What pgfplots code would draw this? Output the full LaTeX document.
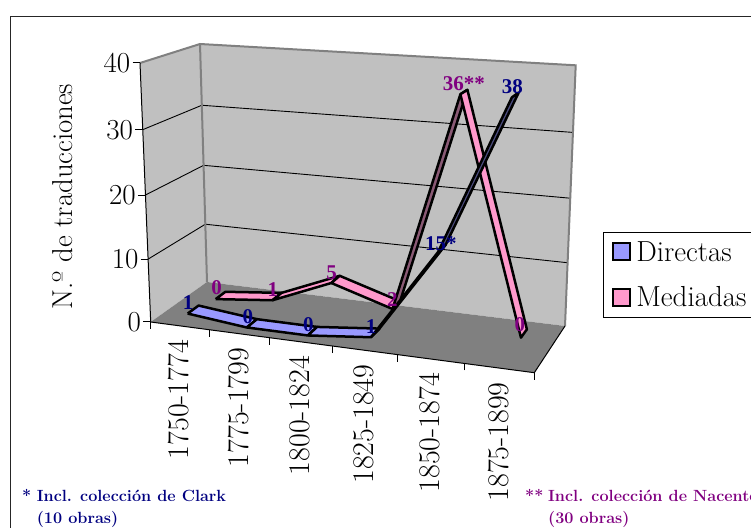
\documentclass[border=0pt]{standalone}
\usepackage{fontspec}
\usepackage{pgfplots}
\usepackage{pgfplotstable}
\pgfplotsset{compat=1.18}
\newfontfamily\valuefont{Liberation Serif}

\definecolor{wallgray}{HTML}{C0C0C0}
\definecolor{floorgray}{HTML}{808080}
\definecolor{directas}{HTML}{9999FF}
\definecolor{mediadas}{HTML}{FF99CC}
\definecolor{directasdark}{HTML}{4D4D80}
\definecolor{mediadasdark}{HTML}{8A5A75}
\definecolor{navylabel}{HTML}{000080}
\definecolor{purplelabel}{HTML}{800080}

% Value labels: period index, depth in the box, value, label shift, text
\pgfplotstableread{
i v n dx dy label
0 0.25 1 -5 6.5 1
1 0.25 0 -4 7 0
2 0.25 0 -4 7 0
3 0.25 1 -4 6 1
4 0.25 15 -1 5 15*
5 0.25 38 -3 8 38
}\tblDirectas
\pgfplotstableread{
i v n dx dy label
0 0.75 0 -4 8 0
1 0.75 1 -4 7 1
2 0.75 5 -4 7 5
3 0.75 2 -4 6 2
4 0.75 36 0 8 36**
5 0.75 0 -4 9 0
}\tblMediadas
\pgfplotstableread{
i v n label
0 0 0 1750-1774
1 0 0 1775-1799
2 0 0 1800-1824
3 0 0 1825-1849
4 0 0 1850-1874
5 0 0 1875-1899
}\tblPeriods
\pgfplotstableread{
i v n label
-0.5 0 0 0
-0.5 0 10 10
-0.5 0 20 20
-0.5 0 30 30
-0.5 0 40 40
}\tblValues

% Table rows hold (period, depth, value); this maps them into the page plane
\pgfplotsset{
  table/world/.style={
    x expr={mapx(\thisrow{i},\thisrow{v},\thisrow{n})},
    y expr={mapy(\thisrow{i},\thisrow{v},\thisrow{n})},
  },
}
\newcommand{\worldpath}[2]{%
  \addplot[forget plot,#1] table[world,row sep=\\] {i v n\\ #2};}
% One ribbon piece: fill, start period, start value, end period, end value, front, back
\newcommand{\quadseg}[7]{%
  \addplot[forget plot,draw=black,line width=2.5pt,line join=round,fill=#1]
    table[world,row sep=\\] {i v n\\ #2 #6 #3\\ #2 #7 #3\\ #4 #7 #5\\ #4 #6 #5\\ #2 #6 #3\\};}

\begin{document}
\begin{tikzpicture}[x=1pt,y=1pt]
\useasboundingbox (0,0) rectangle (751,527);
\clip (0,0) rectangle (751,527);
\begin{axis}[
  at={(0,0)},anchor=south west,
  scale only axis,width=751pt,height=527pt,
  xmin=0,xmax=751,ymin=0,ymax=527,
  hide axis,clip=false,
  declare function={
    lerp(\p,\q,\t)=\p+(\q-\p)*\t;
    fracu(\x)=((\x+0.5)/6)/(1+0.11*(1-(\x+0.5)/6));
    fracw(\z)=(\z/40)/(1+0.04*(1-\z/40));
    mapx(\x,\y,\z)=lerp(
      lerp(lerp(150.7,534.3,fracu(\x)),lerp(207,565,fracu(\x)),\y),
      lerp(lerp(140,544.3,fracu(\x)),lerp(200,575.7,fracu(\x)),\y),
      fracw(\z));
    mapy(\x,\y,\z)=527-lerp(
      lerp(lerp(322,372.7,fracu(\x)),lerp(282,326,fracu(\x)),\y),
      lerp(lerp(63,88.7,fracu(\x)),lerp(44,65.3,fracu(\x)),\y),
      fracw(\z));
  },
  legend style={
    at={(axis cs:603,295)},anchor=north west,
    draw=black,line width=1pt,fill=white,
    font=\fontsize{29}{31}\selectfont,
    inner xsep=8.5pt,inner ysep=8pt,row sep=22pt,
    nodes={inner xsep=5.5pt,inner ysep=1pt},
  },
  legend cell align=left,
]
% Outer frame of the chart area
\addplot[forget plot,draw=black!85,line width=1.5pt] coordinates {(10.7,-5) (10.7,510.5) (760,510.5)};

% Walls and floor
\worldpath{draw=none,fill=wallgray}{-0.5 0 0\\ -0.5 1 0\\ -0.5 1 40\\ -0.5 0 40\\}
\worldpath{draw=none,fill=wallgray}{-0.5 1 0\\ 5.5 1 0\\ 5.5 1 40\\ -0.5 1 40\\}
\worldpath{draw=none,fill=floorgray}{-0.5 0 0\\ 5.5 0 0\\ 5.5 1 0\\ -0.5 1 0\\}
% Horizontal grid on both walls
\worldpath{draw=black,line width=0.9pt}{-0.5 0 10\\ -0.5 1 10\\ 5.5 1 10\\}
\worldpath{draw=black,line width=0.9pt}{-0.5 0 20\\ -0.5 1 20\\ 5.5 1 20\\}
\worldpath{draw=black,line width=0.9pt}{-0.5 0 30\\ -0.5 1 30\\ 5.5 1 30\\}
% Wall edges
\worldpath{draw=floorgray,line width=2pt,line join=miter}{-0.5 0 40\\ -0.5 1 40\\ 5.5 1 40\\ 5.5 1 0\\}
\worldpath{draw=floorgray,line width=2pt}{-0.5 1 40\\ -0.5 1 0\\}
% Axis lines and tick marks
\worldpath{draw=black,line width=1pt}{-0.5 0 40\\ -0.5 0 0\\ 5.5 0 0\\ 5.5 1 0\\}
\pgfplotsinvokeforeach{0,10,20,30,40}{
  \addplot[forget plot,draw=black,line width=1pt] table[row sep=\\,
    x expr={mapx(-0.5,0,#1)+\thisrow{d}},y expr={mapy(-0.5,0,#1)}] {d\\ -7.5\\ 0\\};
}
\pgfplotsinvokeforeach{-0.5,0.5,1.5,2.5,3.5,4.5,5.5}{
  \addplot[forget plot,draw=black,line width=1pt] table[row sep=\\,
    x expr={mapx(#1,0,0)},y expr={mapy(#1,0,0)+\thisrow{d}}] {d\\ -7\\ 0\\};
}

% Mediadas ribbon: 0, 1, 5, 2, 36, 0
\quadseg{mediadas}{0}{0}{1}{1}{0.66}{0.84}
\quadseg{mediadas}{1}{1}{2}{5}{0.66}{0.84}
\quadseg{mediadas}{2}{5}{3}{2}{0.66}{0.84}
\quadseg{mediadasdark}{3}{2}{4}{36}{0.66}{0.84}
\quadseg{mediadas}{4}{36}{5}{0}{0.66}{0.84}
% Directas ribbon: 1, 0, 0, 1, 15, 38
\quadseg{directas}{0}{1}{1}{0}{0.15}{0.35}
\quadseg{directas}{1}{0}{2}{0}{0.15}{0.35}
\quadseg{directas}{2}{0}{3}{1}{0.15}{0.35}
\quadseg{directasdark}{3}{1}{4}{15}{0.15}{0.35}
\quadseg{directasdark}{4}{15}{5}{38}{0.15}{0.35}

% Value labels
\addplot[forget plot,only marks,mark=none,point meta=explicit symbolic,
  nodes near coords,
  nodes near coords style={anchor=center,inner sep=0pt,text=purplelabel,font=\fontsize{21}{23}\selectfont\valuefont\bfseries}]
  table[x expr={mapx(\thisrow{i},\thisrow{v},\thisrow{n})+\thisrow{dx}},
        y expr={mapy(\thisrow{i},\thisrow{v},\thisrow{n})+\thisrow{dy}},meta=label] {\tblMediadas};
\addplot[forget plot,only marks,mark=none,point meta=explicit symbolic,
  nodes near coords,
  nodes near coords style={anchor=center,inner sep=0pt,text=navylabel,font=\fontsize{21}{23}\selectfont\valuefont\bfseries}]
  table[x expr={mapx(\thisrow{i},\thisrow{v},\thisrow{n})+\thisrow{dx}},
        y expr={mapy(\thisrow{i},\thisrow{v},\thisrow{n})+\thisrow{dy}},meta=label] {\tblDirectas};

% Period and value tick labels
\addplot[forget plot,only marks,mark=none,point meta=explicit symbolic,
  nodes near coords,
  nodes near coords style={rotate=90,anchor=east,inner sep=0pt,font=\fontsize{30}{32}\selectfont}]
  table[x expr={mapx(\thisrow{i},0,0)-1},y expr={mapy(\thisrow{i},0,0)-14},meta=label] {\tblPeriods};
\addplot[forget plot,only marks,mark=none,point meta=explicit symbolic,
  nodes near coords,
  nodes near coords style={anchor=east,inner sep=0pt,font=\fontsize{29}{31}\selectfont}]
  table[x expr={mapx(\thisrow{i},0,\thisrow{n})-9.5},y expr={mapy(\thisrow{i},0,\thisrow{n})},meta=label] {\tblValues};

% Axis title and footnotes
\node[rotate=90,anchor=base,inner sep=0pt,font=\fontsize{28.8}{30}\selectfont] at (axis cs:72,330.5) {N.º de traducciones};
\node[anchor=base west,inner sep=0pt,text=navylabel,font=\fontsize{16.2}{18}\selectfont\bfseries] at (axis cs:22,25.5) {*};
\node[anchor=base west,inner sep=0pt,text=navylabel,font=\fontsize{16.2}{18}\selectfont\bfseries] at (axis cs:36.7,25.5) {Incl. colección de Clark};
\node[anchor=base west,inner sep=0pt,text=navylabel,font=\fontsize{16.2}{18}\selectfont\bfseries] at (axis cs:36.7,4) {(10 obras)};
\node[anchor=base west,inner sep=0pt,text=purplelabel,font=\fontsize{16.2}{18}\selectfont\bfseries] at (axis cs:525,26) {**};
\node[anchor=base west,inner sep=0pt,text=purplelabel,font=\fontsize{16.2}{18}\selectfont\bfseries] at (axis cs:548,26) {Incl. colección de Nacente};
\node[anchor=base west,inner sep=0pt,text=purplelabel,font=\fontsize{16.2}{18}\selectfont\bfseries] at (axis cs:548,4) {(30 obras)};

% Legend
\addlegendimage{legend image code/.code={\draw[black,line width=1.8pt,fill=directas] (0pt,-8pt) rectangle (17pt,9pt);}}
\addlegendentry{Directas}
\addlegendimage{legend image code/.code={\draw[black,line width=1.8pt,fill=mediadas] (0pt,-8pt) rectangle (17pt,9pt);}}
\addlegendentry{Mediadas}
\end{axis}
\end{tikzpicture}
\end{document}
